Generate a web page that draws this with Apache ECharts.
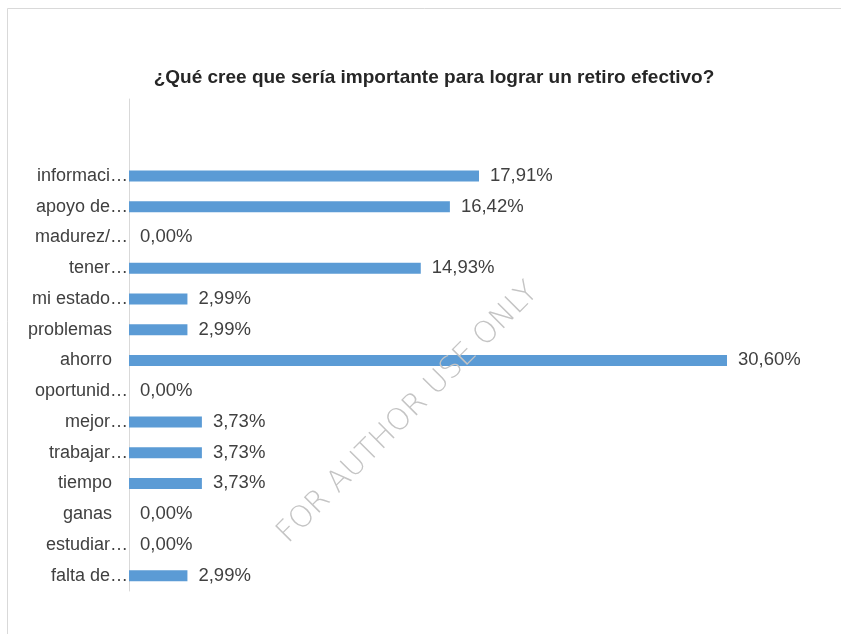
<!DOCTYPE html>
<html>
<head>
<meta charset="utf-8">
<script src="https://cdn.jsdelivr.net/npm/echarts@6/dist/echarts.min.js"></script>
<style>
  html, body { margin: 0; padding: 0; background: #fff; }
  #chart { width: 841px; height: 634px; }
</style>
</head>
<body>
<div id="chart"></div>
<script>
// rows as they appear from top to bottom (Excel truncated the long ones)
const categories = [
  'informaci…', 'apoyo de…', 'madurez/…', 'tener…', 'mi estado…',
  'problemas', 'ahorro', 'oportunid…', 'mejor…', 'trabajar…',
  'tiempo', 'ganas', 'estudiar…', 'falta de…'
]
const values = [
  17.91, 16.42, 0, 14.93, 2.99,
  2.99, 30.60, 0, 3.73, 3.73,
  3.73, 0, 0, 2.99
]
// the plot area keeps two empty rows above the first bar
const emptyRows = ['', '']

const title = '¿Qué cree que sería importante para lograr un retiro efectivo?'
const watermark = 'FOR AUTHOR USE ONLY'

const font = '"Liberation Sans", Arial, sans-serif'
const textColor = '#404040'

const chart = echarts.init(document.getElementById('chart'), null, { renderer: 'canvas' })

chart.setOption({
  animation: false,
  backgroundColor: '#fff',
  title: {
    text: title,
    left: 429,
    top: 63,
    textAlign: 'center',
    textStyle: { fontFamily: font, fontSize: 19, fontWeight: 'bold', color: '#262626' }
  },
  grid: { left: 129, top: 99, width: 684, height: 492, containLabel: false },
  xAxis: {
    type: 'value',
    min: 0,
    max: 35,
    show: false
  },
  yAxis: {
    type: 'category',
    inverse: true,
    data: emptyRows.concat(categories),
    axisLine: { lineStyle: { color: '#d9d9d9', width: 1 } },
    axisTick: { show: false },
    axisLabel: {
      margin: 1,
      fontFamily: font,
      fontSize: 18,
      color: textColor,
      formatter: v => (v.endsWith('…') || v === '') ? v : '{p|' + v + '}',
      rich: {
        p: { fontFamily: font, fontSize: 18, color: textColor, padding: [0, 16, 0, 0] }
      }
    }
  },
  series: [{
    type: 'bar',
    data: emptyRows.map(() => null).concat(values),
    barWidth: 11,
    itemStyle: { color: '#5b9bd5' },
    label: {
      show: true,
      position: 'right',
      distance: 11,
      fontFamily: font,
      fontSize: 18.5,
      color: textColor,
      formatter: p => p.value == null ? '' : p.value.toFixed(2).replace('.', ',') + '%'
    }
  }],
  graphic: [
    {
      type: 'rect',
      silent: true,
      shape: { x: 7.5, y: 8.5, width: 900, height: 700 },
      style: { fill: null, stroke: '#d9d9d9', lineWidth: 1 }
    },
    {
      type: 'text',
      silent: true,
      x: 408,
      y: 413,
      rotation: Math.PI / 4,
      z: 100,
      style: {
        text: watermark,
        x: 0,
        y: 0,
        align: 'center',
        verticalAlign: 'middle',
        fontFamily: '"DejaVu Sans", sans-serif',
        fontSize: 30,
        fontWeight: 200,
        fill: '#c4c4c4'
      }
    }
  ]
})
</script>
</body>
</html>
